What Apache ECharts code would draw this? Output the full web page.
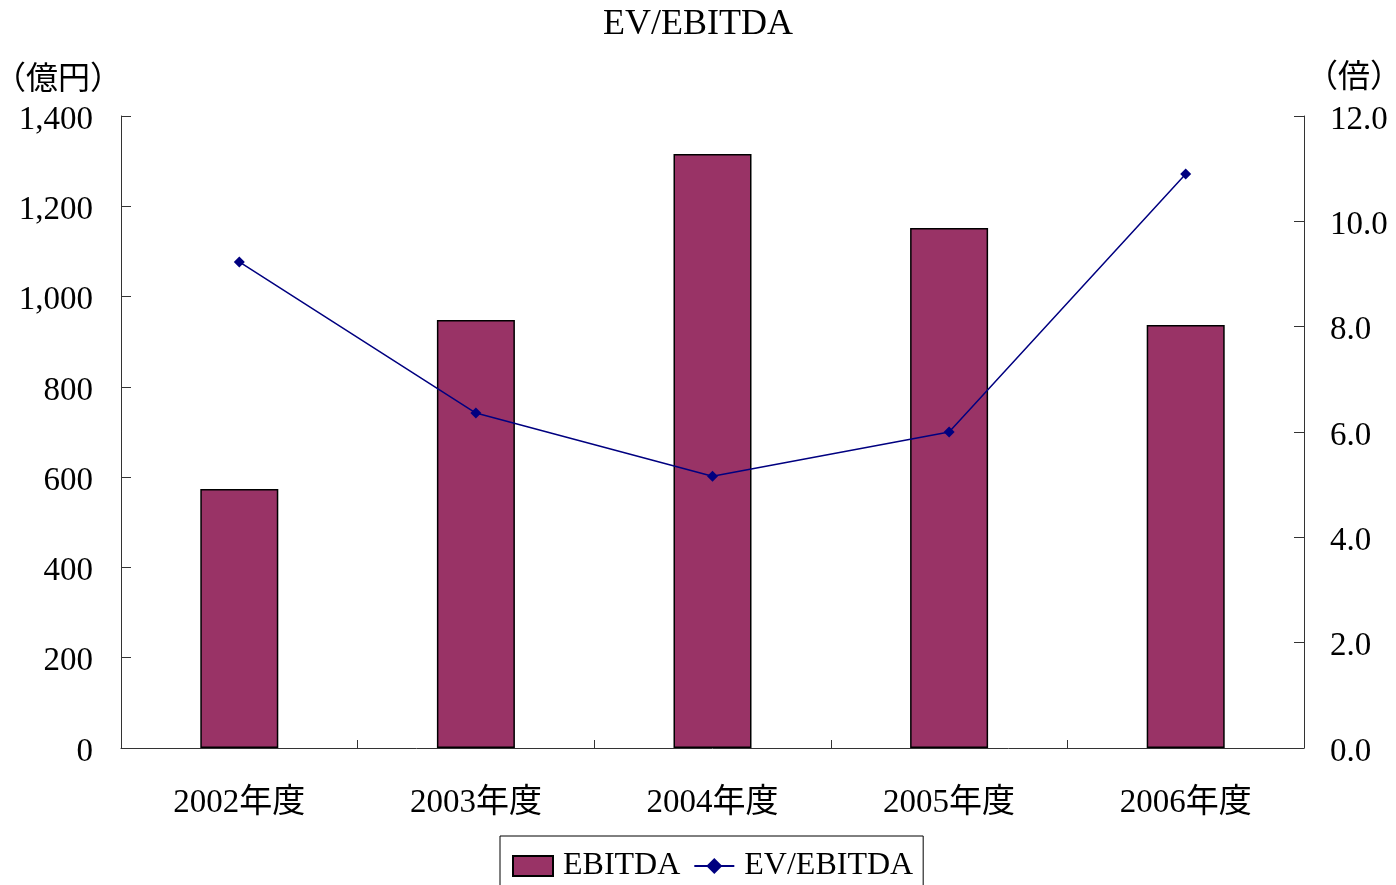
<!DOCTYPE html>
<html><head><meta charset="utf-8">
<script src="https://cdn.jsdelivr.net/npm/echarts@6/dist/echarts.min.js"></script>
<style>html,body{margin:0;padding:0;background:#fff}#c{width:1396px;height:885px}</style>
</head><body><div id="c"></div>
<script>
const categories = ['2002年度','2003年度','2004年度','2005年度','2006年度'];
const ebitda = [574, 948, 1316, 1152, 937];
const evEbitda = [9.23, 6.36, 5.16, 6.0, 10.9];
const leftTicks = {min:0, max:1400, interval:200};
const rightTicks = {min:0, max:12, interval:2};

const FF = '"Liberation Serif", "Times New Roman", "Noto Sans CJK JP", serif';
const chart = echarts.init(document.getElementById('c'));
const axisLine = {show:true, lineStyle:{color:'#333', width:1}};
const richLbl = {v:{fontSize:33, fontFamily:FF, color:'#000', padding:[8,0,0,0]}};
chart.setOption({
  animation:false,
  backgroundColor:'#fff',
  textStyle:{fontFamily:FF, color:'#000'},
  title:{text:'EV/EBITDA', left:'center', top:2, textStyle:{fontFamily:FF, fontSize:36, fontWeight:'normal', color:'#000'}},
  graphic:[
    {type:'text', left:-6, top:65, style:{text:'（億円）', font:'32px '+FF, fill:'#000'}},
    {type:'text', right:-6, top:63, style:{text:'（倍）', font:'32px '+FF, fill:'#000'}}
  ],
  legend:{
    orient:'horizontal', top:836, left:500,
    padding:[14,10,18,12], borderColor:'#000', borderWidth:1,
    itemWidth:40, itemHeight:20, itemGap:13,
    textStyle:{fontFamily:FF, fontSize:32, color:'#000', padding:[0,0,0,5]},
    data:[{name:'EBITDA', icon:'rect'}, {name:'EV/EBITDA'}]
  },
  grid:{left:121, right:92, top:116, bottom:137},
  xAxis:{
    type:'category', data:categories,
    axisLine:axisLine,
    axisTick:{show:true, inside:true, length:8, alignWithLabel:false, lineStyle:{color:'#333'}},
    axisLabel:{margin:39, fontSize:33, fontFamily:FF, color:'#000'}
  },
  yAxis:[
    {type:'value', min:leftTicks.min, max:leftTicks.max, interval:leftTicks.interval,
     axisLine:axisLine, axisTick:{show:true, inside:true, length:10, lineStyle:{color:'#333'}},
     splitLine:{show:false},
     axisLabel:{margin:28, fontSize:33, fontFamily:FF, color:'#000', rich:richLbl,
       formatter:v=>'{v|'+v.toLocaleString('en-US')+'}'}},
    {type:'value', min:rightTicks.min, max:rightTicks.max, interval:rightTicks.interval,
     axisLine:axisLine, axisTick:{show:true, inside:true, length:10, lineStyle:{color:'#333'}},
     splitLine:{show:false},
     axisLabel:{margin:26, fontSize:33, fontFamily:FF, color:'#000', rich:richLbl,
       formatter:v=>'{v|'+v.toFixed(1)+'}'}}
  ],
  series:[
    {name:'EBITDA', type:'bar', data:ebitda, barWidth:78, yAxisIndex:0,
     itemStyle:{color:'#993366', borderColor:'#000', borderWidth:1.5}},
    {name:'EV/EBITDA', type:'line', data:evEbitda, yAxisIndex:1,
     symbol:'diamond', symbolSize:11,
     lineStyle:{color:'#000080', width:1.5},
     itemStyle:{color:'#000080'}}
  ]
});
</script></body></html>
